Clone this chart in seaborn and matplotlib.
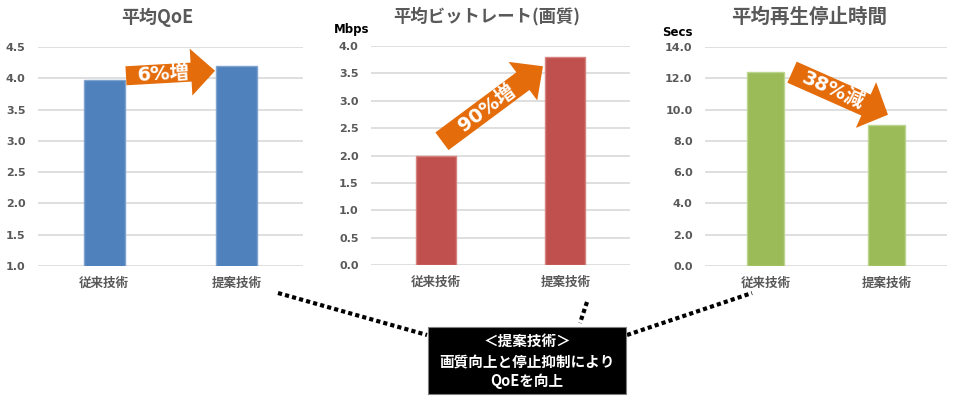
import numpy as np
import pandas as pd
import matplotlib
matplotlib.use("Agg")
import matplotlib.pyplot as plt
from matplotlib.patches import Polygon, Rectangle
from matplotlib.lines import Line2D
import seaborn as sns

# ---- data ----
categories = ["従来技術", "提案技術"]
qoe_values = [3.97, 4.2]
bitrate_values = [2.0, 3.8]
stall_values = [12.4, 9.0]

titles = ["平均QoE", "平均ビットレート(画質)", "平均再生停止時間"]
units = ["", "Mbps", "Secs"]
arrow_labels = ["6%増", "90%増", "38%減"]
note_text = "＜提案技術＞\n画質向上と停止抑制により\nQoEを向上"

qoe_ticks = [1.0, 1.5, 2.0, 2.5, 3.0, 3.5, 4.0, 4.5]
bitrate_ticks = [0.0, 0.5, 1.0, 1.5, 2.0, 2.5, 3.0, 3.5, 4.0]
stall_ticks = [0.0, 2.0, 4.0, 6.0, 8.0, 10.0, 12.0, 14.0]

# ---- style ----
sns.set_theme(style="white")
plt.rcParams["font.family"] = ["Noto Sans CJK JP", "DejaVu Sans"]
WIDE = ["DejaVu Sans", "Noto Sans CJK JP"]

W, H = 955, 400
fig = plt.figure(figsize=(W / 100, H / 100), dpi=100)
fig.patch.set_facecolor("white")

GRAY = "#595959"
ORANGE = "#E46C0A"


def px_axes(x0, y0, x1, y1):
    return fig.add_axes([x0 / W, 1 - y1 / H, (x1 - x0) / W, (y1 - y0) / H])


def figfrac(x, y):
    return (x / W, 1 - y / H)


panels = [
    dict(box=(38, 47, 303, 266), vals=qoe_values, ticks=qoe_ticks,
         color="#4F81BD", edge="#7FA3D1", title_xy=(157, 17), tsize=13,
         unit_xy=None,
         arrow=((0.164, 4.04), (0.836, 4.12)), bw=19, hw=47, hl=24, tpos=0.42),
    dict(box=(371, 46, 630, 265), vals=bitrate_values, ticks=bitrate_ticks,
         color="#C0504D", edge="#D68380", title_xy=(487, 16), tsize=12.5,
         unit_xy=(352, 29),
         arrow=((0.048, 2.26), (0.828, 3.63)), bw=22, hw=48, hl=25, tpos=0.44),
    dict(box=(705, 47, 947, 266), vals=stall_values, ticks=stall_ticks,
         color="#9BBB59", edge="#BBD48E", title_xy=(809, 17), tsize=14,
         unit_xy=(677, 33),
         arrow=((0.219, 12.39), (1.012, 9.67)), bw=23, hw=50, hl=24, tpos=0.43),
]

for i, p in enumerate(panels):
    ax = px_axes(*p["box"])
    df = pd.DataFrame({"cat": categories, "val": p["vals"]})
    sns.barplot(data=df, x="cat", y="val", color=p["color"], width=0.31,
                edgecolor=p["edge"], linewidth=1.0, saturation=1, ax=ax, zorder=3)
    ax.set_xlim(-0.5, 1.5)
    ax.set_ylim(p["ticks"][0], p["ticks"][-1])
    ax.set_yticks(p["ticks"])
    ax.set_yticklabels([f"{t:.1f}" for t in p["ticks"]])
    ax.yaxis.grid(True, color="#D9D9D9", lw=1.2, zorder=0)
    ax.xaxis.grid(False)
    for s in ax.spines.values():
        s.set_visible(False)
    ax.tick_params(axis="y", length=0, pad=9, labelsize=8, labelcolor=GRAY)
    ax.tick_params(axis="x", length=0, pad=8, labelsize=9, labelcolor=GRAY)
    for lab in ax.get_yticklabels():
        lab.set_fontweight("bold")
        lab.set_family(WIDE)
    for lab in ax.get_xticklabels():
        lab.set_fontweight("bold")
    ax.set_xlabel("")
    ax.set_ylabel("")
    ax.set_facecolor("none")

    # title and unit
    tx, ty = figfrac(*p["title_xy"])
    fig.text(tx, ty, titles[i], ha="center", va="center", fontsize=p["tsize"],
             fontweight="bold", color=GRAY)
    if p["unit_xy"] is not None:
        ux, uy = figfrac(*p["unit_xy"])
        fig.text(ux, uy, units[i], ha="center", va="center", fontsize=8.5,
                 fontweight="bold", color="black", family=WIDE)

    # block arrow (annotation) anchored on the data coordinates
    (t_x, t_y), (h_x, h_y) = p["arrow"]
    tail = ax.transData.transform((t_x, t_y))
    tip = ax.transData.transform((h_x, h_y))
    d = tip - tail
    L = np.hypot(*d)
    u = d / L
    n = np.array([-u[1], u[0]])
    bw, hw, hl = p["bw"], p["hw"], p["hl"]
    base = tip - u * hl
    pts = np.array([
        tail + n * bw / 2,
        base + n * bw / 2,
        base + n * hw / 2,
        tip,
        base - n * hw / 2,
        base - n * bw / 2,
        tail - n * bw / 2,
    ])
    pts_fig = fig.transFigure.inverted().transform(pts)
    fig.add_artist(Polygon(pts_fig, closed=True, facecolor=ORANGE,
                           edgecolor="none", transform=fig.transFigure, zorder=10))
    ang = np.degrees(np.arctan2(d[1], d[0]))
    c = tail + d * p["tpos"]
    cf = fig.transFigure.inverted().transform(c)
    fig.text(cf[0], cf[1], arrow_labels[i], ha="center", va="center",
             rotation=ang, rotation_mode="anchor", fontsize=14,
             fontweight="bold", color="white", zorder=11, family=WIDE)

# ---- dotted connector lines ----
lines_px = [((278, 293), (427, 335)),
            ((587, 302), (580, 323)),
            ((627, 335), (752, 293))]
for (x0, y0), (x1, y1) in lines_px:
    a = figfrac(x0, y0)
    b = figfrac(x1, y1)
    fig.add_artist(Line2D([a[0], b[0]], [a[1], b[1]], color="black", lw=3,
                          linestyle=(0, (1, 0.75)), dash_capstyle="butt",
                          transform=fig.transFigure, zorder=5))

# ---- note box ----
bx0, by0, bx1, by1 = 428, 327, 626, 394
fig.add_artist(Rectangle((bx0 / W, 1 - by1 / H), (bx1 - bx0) / W, (by1 - by0) / H,
                         facecolor="black", edgecolor="#7F7F7F", lw=0.8,
                         transform=fig.transFigure, zorder=6))
cx, cy = figfrac((bx0 + bx1) / 2, (by0 + by1) / 2 + 0.5)
fig.text(cx, cy, note_text, ha="center", va="center", color="white",
         fontsize=10.5, fontweight="bold", linespacing=1.3, zorder=7)

fig.savefig("out.png", dpi=100, facecolor="white")
